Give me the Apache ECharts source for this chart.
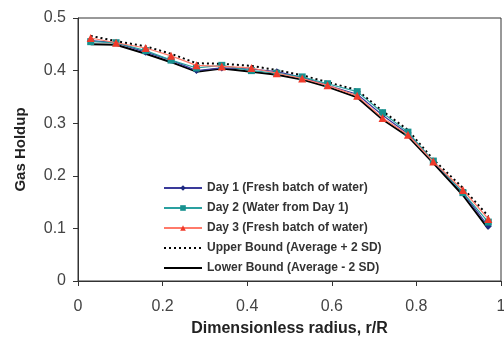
<!DOCTYPE html>
<html><head><meta charset="utf-8">
<script src="https://cdn.jsdelivr.net/npm/echarts@6/dist/echarts.min.js"></script>
<style>html,body{margin:0;padding:0;background:#fff}#c{width:504px;height:341px}</style>
</head><body><div id="c"></div>
<script>
const radius = [0.03,0.09,0.16,0.22,0.28,0.34,0.41,0.47,0.53,0.59,0.66,0.72,0.78,0.84,0.91,0.97];
const day1 = [0.457,0.453,0.435,0.420,0.400,0.405,0.403,0.398,0.387,0.372,0.355,0.315,0.280,0.227,0.168,0.104];
const day2 = [0.455,0.453,0.438,0.420,0.405,0.410,0.400,0.395,0.388,0.375,0.360,0.320,0.283,0.228,0.168,0.112];
const day3 = [0.462,0.453,0.443,0.428,0.410,0.408,0.405,0.395,0.385,0.372,0.352,0.310,0.278,0.227,0.173,0.118];
const upper = [0.466,0.456,0.446,0.432,0.414,0.413,0.409,0.401,0.391,0.378,0.363,0.323,0.287,0.231,0.177,0.123];
const lower = [0.450,0.449,0.432,0.416,0.398,0.404,0.398,0.392,0.383,0.369,0.349,0.307,0.275,0.224,0.163,0.099];
const names = ['Day 1 (Fresh batch of water)','Day 2 (Water from Day 1)','Day 3 (Fresh batch of water)','Upper Bound (Average + 2 SD)','Lower Bound (Average - 2 SD)'];
const pair = a => radius.map((x,i)=>[x,a[i]]);
const chart = echarts.init(document.getElementById('c'));
chart.setOption({
  animation:false,
  grid:{left:78,right:3,top:18,bottom:60,show:true,borderColor:'#333',borderWidth:1,outerBoundsMode:'none',containLabel:false},
  legend:{orient:'vertical',left:158,top:177,itemWidth:38,itemHeight:7,itemGap:8,
    textStyle:{fontFamily:'Liberation Sans, Arial',fontWeight:'bold',fontSize:12,color:'#333'},
    data:[names[0],names[1],names[2],
      {name:names[3],itemStyle:{opacity:0}},
      {name:names[4],itemStyle:{opacity:0}}]},
  xAxis:{type:'value',min:0,max:1,interval:0.2,
    axisLine:{lineStyle:{color:'#333'}},axisTick:{show:true,length:5,lineStyle:{color:'#333'}},
    splitLine:{show:false},
    axisLabel:{fontFamily:'Liberation Sans, Arial',fontSize:16,color:'#444',margin:18},
    name:'Dimensionless radius, r/R',nameLocation:'middle',nameGap:40,
    nameTextStyle:{fontFamily:'Liberation Sans, Arial',fontWeight:'bold',fontSize:16,color:'#222'}},
  yAxis:{type:'value',min:0,max:0.5,interval:0.1,
    axisLine:{show:true,lineStyle:{color:'#333'}},axisTick:{show:true,length:5,lineStyle:{color:'#333'}},
    splitLine:{show:false},
    axisLabel:{fontFamily:'Liberation Sans, Arial',fontSize:16,color:'#444',margin:12},
    name:'Gas Holdup',nameLocation:'middle',nameGap:50,
    nameTextStyle:{fontFamily:'Liberation Sans, Arial',fontWeight:'bold',fontSize:15,color:'#222'}},
  series:[
    {name:names[4],type:'line',data:pair(lower),symbol:'none',lineStyle:{color:'#000',width:2},itemStyle:{color:'#000'},z:1},
    {name:names[3],type:'line',data:pair(upper),symbol:'none',lineStyle:{color:'#000',width:2,type:[2,3]},itemStyle:{color:'#000'},z:1},
    {name:names[0],type:'line',data:pair(day1),symbol:'diamond',symbolSize:7,lineStyle:{color:'#3a3a9a',width:1.2},itemStyle:{color:'#1e2a80'},z:3},
    {name:names[1],type:'line',data:pair(day2),symbol:'rect',symbolSize:7,lineStyle:{color:'#2aa0a0',width:1.2},itemStyle:{color:'#17918f'},z:4},
    {name:names[2],type:'line',data:pair(day3),symbol:'triangle',symbolSize:8,lineStyle:{color:'#ff7a6a',width:1.2},itemStyle:{color:'#f03a2a'},z:5}
  ]
});
</script></body></html>
